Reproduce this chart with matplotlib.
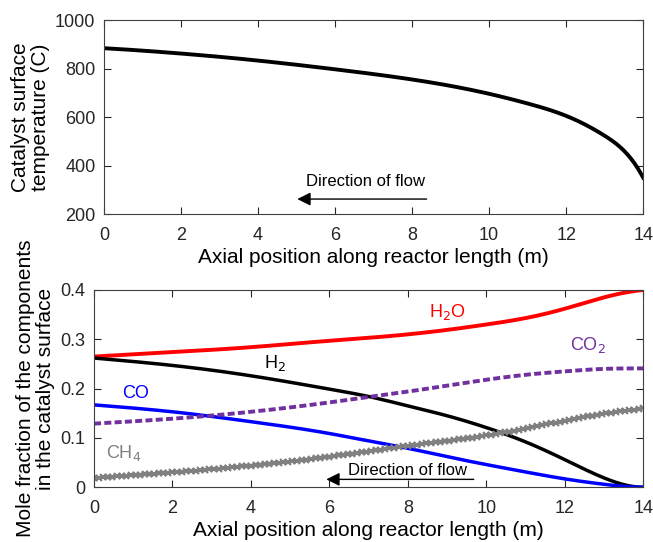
import numpy as np
import matplotlib
matplotlib.use("Agg")
import matplotlib.pyplot as plt

plt.rcParams['font.family'] = ['Liberation Sans', 'DejaVu Sans']

# ---- data ----
x_temp = [0, 2, 4, 6, 8, 10, 11, 12, 13, 14]
temp = [884, 862, 833, 797, 755, 696, 656, 605, 523, 350]

x_mf = [0, 2, 4, 6, 7, 8, 9, 10, 11, 12, 13, 14]
h2o = [0.265, 0.274, 0.284, 0.297, 0.303, 0.310, 0.319, 0.330, 0.343, 0.362, 0.385, 0.400]
h2 = [0.262, 0.247, 0.226, 0.199, 0.184, 0.165, 0.145, 0.121, 0.092, 0.056, 0.019, 0.0]
co = [0.167, 0.153, 0.133, 0.109, 0.094, 0.079, 0.062, 0.046, 0.031, 0.017, 0.006, 0.0]
co2 = [0.129, 0.139, 0.153, 0.172, 0.183, 0.194, 0.206, 0.218, 0.228, 0.235, 0.240, 0.241]
ch4 = [0.019, 0.030, 0.044, 0.062, 0.073, 0.084, 0.094, 0.105, 0.119, 0.135, 0.149, 0.160]

xticks = [0, 2, 4, 6, 8, 10, 12, 14]


def smooth(xs, ys, n=300, d0=None, dn=None):
    """Cubic spline through the read points (natural, or clamped end slopes)."""
    xs = np.asarray(xs, float)
    ys = np.asarray(ys, float)
    k = len(xs)
    h = np.diff(xs)
    A = np.zeros((k, k))
    b = np.zeros(k)
    for i in range(1, k - 1):
        A[i, i - 1] = h[i - 1]
        A[i, i] = 2 * (h[i - 1] + h[i])
        A[i, i + 1] = h[i]
        b[i] = 6 * ((ys[i + 1] - ys[i]) / h[i] - (ys[i] - ys[i - 1]) / h[i - 1])
    if d0 is None:
        A[0, 0] = 1
    else:
        A[0, 0], A[0, 1] = 2 * h[0], h[0]
        b[0] = 6 * ((ys[1] - ys[0]) / h[0] - d0)
    if dn is None:
        A[-1, -1] = 1
    else:
        A[-1, -2], A[-1, -1] = h[-1], 2 * h[-1]
        b[-1] = 6 * (dn - (ys[-1] - ys[-2]) / h[-1])
    M = np.linalg.solve(A, b)
    xf = np.linspace(xs[0], xs[-1], n)
    idx = np.clip(np.searchsorted(xs, xf) - 1, 0, k - 2)
    x0, x1 = xs[idx], xs[idx + 1]
    hh = h[idx]
    a = (x1 - xf) / hh
    c = (xf - x0) / hh
    yf = (a * ys[idx] + c * ys[idx + 1]
          + ((a**3 - a) * M[idx] + (c**3 - c) * M[idx + 1]) * hh**2 / 6)
    return xf, yf


fig = plt.figure(figsize=(6.53, 5.42), dpi=100)
ax1 = fig.add_axes([0.159, 0.605, 0.826, 0.358])
ax2 = fig.add_axes([0.144, 0.101, 0.841, 0.364])

purple = '#7030A0'
gray = '#808080'

for ax in (ax1, ax2):
    ax.tick_params(direction='in', top=True, right=True, labelsize=13,
                   length=5, width=0.8, colors='#262626')
    ax.tick_params(axis='x', pad=9)
    ax.tick_params(axis='y', pad=6)
    for s in ax.spines.values():
        s.set_color('#404040')
        s.set_linewidth(0.8)
    ax.set_xlim(0, 14)
    ax.set_xticks(xticks)
    ax.set_xlabel('Axial position along reactor length (m)', fontsize=15,
                  labelpad=3)

# top panel
xf, yf = smooth(x_temp, temp, d0=-9, dn=-300)
ax1.plot(xf, yf, color='black', lw=2.8)
ax1.set_ylim(200, 1000)
ax1.set_yticks([200, 400, 600, 800, 1000])
ax1.set_ylabel('Catalyst surface\ntemperature (C)', fontsize=15, linespacing=1.05,
               labelpad=4)
ax1.text(6.8, 333, 'Direction of flow', ha='center', va='center', fontsize=12)
ax1.annotate('', xy=(4.95, 262), xytext=(8.45, 262),
             arrowprops=dict(arrowstyle='-|>', color='black', lw=1,
                             mutation_scale=20))

# bottom panel
xf, yf = smooth(x_mf, h2o, dn=0.008)
ax2.plot(xf, yf, color='red', lw=2.8)
xf, yf = smooth(x_mf, h2, dn=0.0)
ax2.plot(xf, yf, color='black', lw=2.5)
xf, yf = smooth(x_mf, co, dn=0.0)
ax2.plot(xf, yf, color='blue', lw=2.5)
xf, yf = smooth(x_mf, co2, dn=0.0)
ax2.plot(xf, yf, color=purple, lw=2.8, ls=(0, (1.8, 0.85)))
xf, yf = smooth(x_mf, ch4, n=120)
ax2.plot(xf, yf, color=gray, lw=2, marker='x', ms=4, mew=1.5)

ax2.set_ylim(0, 0.4)
ax2.set_yticks([0, 0.1, 0.2, 0.3, 0.4])
ax2.set_yticklabels(['0', '0.1', '0.2', '0.3', '0.4'])
ax2.set_ylabel('Mole fraction of the components\nin the catalyst surface',
               fontsize=15, linespacing=1.05, labelpad=4)

ax2.text(9.0, 0.335, 'H$_2$O', color='red', fontsize=13, ha='center', va='bottom')
ax2.text(12.6, 0.268, 'CO$_2$', color=purple, fontsize=13, ha='center', va='bottom')
ax2.text(4.6, 0.232, 'H$_2$', color='black', fontsize=13, ha='center', va='bottom')
ax2.text(1.05, 0.172, 'CO', color='blue', fontsize=13, ha='center', va='bottom')
ax2.text(0.75, 0.05, 'CH$_4$', color=gray, fontsize=13, ha='center', va='bottom')

ax2.text(8.0, 0.034, 'Direction of flow', ha='center', va='center', fontsize=12)
ax2.annotate('', xy=(5.85, 0.016), xytext=(9.75, 0.016),
             arrowprops=dict(arrowstyle='-|>', color='black', lw=1,
                             mutation_scale=20))

fig.savefig('out.png', dpi=100)
